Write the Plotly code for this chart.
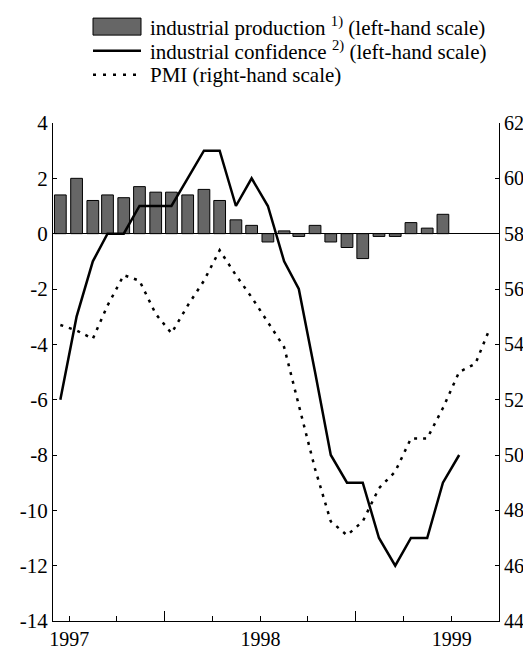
import pandas as pd
import plotly.graph_objects as go

# monthly data, Dec 1996 onwards
start_month = "1996-12"
ind_production = [1.4, 2.0, 1.2, 1.4, 1.3, 1.7, 1.5, 1.5, 1.4, 1.6, 1.2, 0.5, 0.3,
                  -0.3, 0.1, -0.1, 0.3, -0.3, -0.5, -0.9, -0.1, -0.1, 0.4, 0.2, 0.7]
ind_confidence = [-6, -3, -1, 0, 0, 1, 1, 1, 2, 3, 3, 1, 2,
                  1, -1, -2, -5, -8, -9, -9, -11, -12, -11, -11, -9, -8]
pmi = [54.7, 54.5, 54.2, 55.4, 56.5, 56.3, 55.1, 54.4, 55.4, 56.3, 57.4, 56.5, 55.7,
       54.8, 53.9, 51.8, 49.5, 47.6, 47.1, 47.6, 48.8, 49.4, 50.6, 50.6, 51.7, 53.0, 53.3, 54.6]
year_ticks = ["1997-01-01", "1998-01-01", "1999-01-01"]
year_labels = ["1997", "1998", "1999"]
left_ticks = list(range(-14, 5, 2))
right_ticks = list(range(44, 63, 2))
legend_labels = ["industrial production <sup>1)</sup> (left-hand scale)",
                 "industrial confidence <sup>2)</sup> (left-hand scale)",
                 "PMI (right-hand scale)"]


def mid_months(n):
    return pd.date_range(start_month, periods=n, freq="MS") + pd.Timedelta(days=14)


FONT = "Liberation Serif"
W, H = 531, 650
ML, MR, MT, MB = 45, 40, 115, 8


def px(x):
    return (x - ML) / (W - ML - MR)


def py(y):
    return (H - MB - y) / (H - MT - MB)


fig = go.Figure()

fig.add_trace(go.Bar(
    x=mid_months(len(ind_production)), y=ind_production,
    marker=dict(color="#666666", line=dict(color="black", width=1)),
    showlegend=False
))
fig.add_trace(go.Scatter(
    x=mid_months(len(ind_confidence)), y=ind_confidence,
    mode="lines", line=dict(color="black", width=2.5),
    showlegend=False
))
fig.add_trace(go.Scatter(
    x=mid_months(len(pmi)), y=pmi, yaxis="y2",
    mode="lines", line=dict(color="black", width=2.5, dash="3px,6px"),
    showlegend=False
))
# invisible trace so the overlay x axis (mid-year ticks) gets drawn
fig.add_trace(go.Scatter(x=[year_ticks[0]], y=[0], xaxis="x2", mode="markers",
                         marker=dict(opacity=0), showlegend=False, hoverinfo="skip"))

# hand-made legend
rows = [13, 38.5, 64]
lx0, lx1 = 85, 133
fig.add_shape(type="rect", xref="paper", yref="paper",
              x0=px(lx0), x1=px(lx1), y0=py(rows[0] + 9), y1=py(rows[0] - 9),
              fillcolor="#666666", line=dict(color="black", width=1))
fig.add_shape(type="line", xref="paper", yref="paper",
              x0=px(lx0), x1=px(lx1), y0=py(rows[1]), y1=py(rows[1]),
              line=dict(color="black", width=2.5))
fig.add_shape(type="line", xref="paper", yref="paper",
              x0=px(lx0), x1=px(lx1), y0=py(rows[2]), y1=py(rows[2]),
              line=dict(color="black", width=2.5, dash="3px,7px"))
for r, lab in zip(rows, legend_labels):
    fig.add_annotation(text=lab, xref="paper", yref="paper", x=px(140), y=py(r),
                       xanchor="left", yanchor="middle", showarrow=False,
                       font=dict(family=FONT, size=21, color="black"))

fig.update_layout(
    width=W, height=H,
    margin=dict(l=ML, r=MR, t=MT, b=MB),
    plot_bgcolor="white", paper_bgcolor="white",
    font=dict(family=FONT, size=20, color="black"),
    bargap=0.2,
    xaxis=dict(type="date", range=["1996-12-01", "1999-04-01"],
               tickvals=year_ticks, ticktext=year_labels,
               ticks="inside", ticklen=5, tickcolor="black",
               minor=dict(ticks="inside", dtick="M3", tick0="1997-01-01",
                          ticklen=5, tickcolor="black"),
               showline=True, linecolor="black", linewidth=1,
               showgrid=False, zeroline=False),
    xaxis2=dict(type="date", range=["1996-12-01", "1999-04-01"], overlaying="x",
                anchor="y", side="bottom",
                tickvals=["1997-07-01", "1998-07-01"], showticklabels=False,
                ticks="inside", ticklen=10, tickcolor="black",
                showline=False, showgrid=False, zeroline=False),
    yaxis=dict(range=[-14, 4], tickvals=left_ticks, ticktext=[str(v) for v in left_ticks],
               tickfont=dict(size=21),
               ticks="inside", ticklen=4, tickcolor="black",
               showline=True, linecolor="black", linewidth=1, showgrid=False,
               zeroline=True, zerolinecolor="black", zerolinewidth=1),
    yaxis2=dict(range=[44, 62], tickvals=right_ticks, ticktext=[str(v) for v in right_ticks],
                overlaying="y", side="right",
                ticks="inside", ticklen=4, tickcolor="black",
                showline=True, linecolor="black", linewidth=1,
                showgrid=False, zeroline=False),
)

fig.write_html("out.html")
